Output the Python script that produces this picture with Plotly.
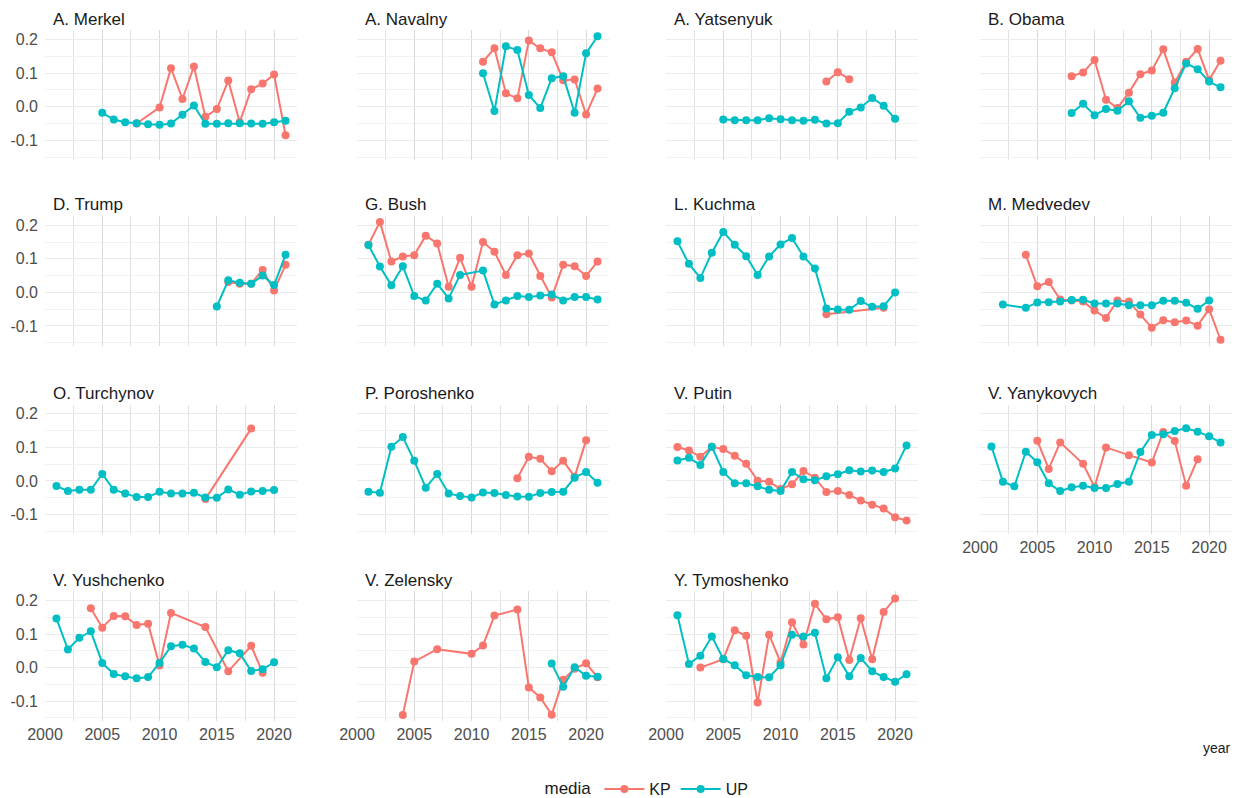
import plotly.graph_objects as go

YEARS = list(range(2001, 2022))
N = None

# values for 2001..2021 (None = no observation)
MERKEL_KP = [N, N, N, N, N, N, N, -0.050, N, -0.002, 0.115, 0.023, 0.120, -0.030, -0.007, 0.078, -0.046, 0.052, 0.069, 0.096, -0.085]
MERKEL_UP = [N, N, N, N, -0.018, -0.038, -0.046, -0.049, -0.052, -0.054, -0.050, -0.024, 0.004, -0.051, -0.051, -0.049, -0.049, -0.050, -0.051, -0.046, -0.042]
NAVALNY_KP = [N, N, N, N, N, N, N, N, N, N, 0.134, 0.174, 0.040, 0.025, 0.197, 0.174, 0.162, 0.079, 0.081, -0.023, 0.054]
NAVALNY_UP = [N, N, N, N, N, N, N, N, N, N, 0.100, -0.013, 0.180, 0.169, 0.035, -0.004, 0.085, 0.091, -0.018, 0.159, 0.210]
YATSENYUK_KP = [N, N, N, N, N, N, N, N, N, N, N, N, N, 0.075, 0.103, 0.082, N, N, N, N, N]
YATSENYUK_UP = [N, N, N, N, -0.038, -0.040, -0.040, -0.040, -0.034, -0.037, -0.040, -0.042, -0.039, -0.050, -0.049, -0.015, -0.002, 0.026, 0.003, -0.036, N]
OBAMA_KP = [N, N, N, N, N, N, N, 0.091, 0.102, 0.139, 0.021, -0.004, 0.042, 0.097, 0.108, 0.171, 0.072, 0.134, 0.172, 0.080, 0.137]
OBAMA_UP = [N, N, N, N, N, N, N, -0.019, 0.009, -0.025, -0.007, -0.012, 0.016, -0.033, -0.027, -0.018, 0.055, 0.129, 0.112, 0.075, 0.058]
TRUMP_KP = [N, N, N, N, N, N, N, N, N, N, N, N, N, N, N, 0.031, 0.026, 0.026, 0.067, 0.006, 0.082]
TRUMP_UP = [N, N, N, N, N, N, N, N, N, N, N, N, N, N, -0.042, 0.036, 0.029, 0.026, 0.050, 0.022, 0.112]
BUSH_KP = [0.142, 0.210, 0.092, 0.107, 0.111, 0.169, 0.146, 0.017, 0.103, 0.017, 0.150, 0.121, 0.052, 0.111, 0.116, 0.049, -0.015, 0.082, 0.078, 0.049, 0.092]
BUSH_UP = [0.141, 0.077, 0.021, 0.078, -0.011, -0.024, 0.026, -0.018, 0.052, N, 0.065, -0.036, -0.024, -0.011, -0.014, -0.009, -0.006, -0.024, -0.014, -0.014, -0.021]
KUCHMA_KP = [N, N, N, N, N, N, N, N, N, N, N, N, N, -0.065, N, N, N, N, -0.046, N, N]
KUCHMA_UP = [0.152, 0.085, 0.043, 0.118, 0.180, 0.142, 0.108, 0.052, 0.107, 0.143, 0.162, 0.107, 0.071, -0.048, -0.051, -0.052, -0.026, -0.043, -0.041, 0.000, N]
MEDVEDEV_KP = [N, N, N, 0.112, 0.018, 0.031, -0.021, -0.024, -0.027, -0.054, -0.076, -0.024, -0.027, -0.066, -0.105, -0.083, -0.089, -0.084, -0.099, -0.050, -0.141]
MEDVEDEV_UP = [N, -0.036, N, -0.046, -0.030, -0.029, -0.027, -0.023, -0.022, -0.033, -0.033, -0.033, -0.038, -0.038, -0.038, -0.025, -0.025, -0.031, -0.049, -0.024, N]
TURCHYNOV_KP = [N, N, N, N, N, N, N, N, N, N, N, N, N, -0.054, N, N, N, 0.156, N, N, N]
TURCHYNOV_UP = [-0.015, -0.030, -0.026, -0.026, 0.021, -0.026, -0.037, -0.048, -0.048, -0.032, -0.037, -0.037, -0.035, -0.049, -0.050, -0.025, -0.041, -0.031, -0.030, -0.027, N]
POROSHENKO_KP = [N, N, N, N, N, N, N, N, N, N, N, N, N, 0.008, 0.072, 0.066, 0.029, 0.060, 0.013, 0.121, N]
POROSHENKO_UP = [-0.032, -0.035, 0.102, 0.131, 0.060, -0.020, 0.021, -0.037, -0.045, -0.049, -0.034, -0.036, -0.042, -0.046, -0.047, -0.036, -0.033, -0.032, 0.010, 0.027, -0.005]
PUTIN_KP = [0.101, 0.091, 0.072, 0.102, 0.095, 0.075, 0.051, 0.001, -0.002, -0.024, -0.010, 0.030, 0.010, -0.033, -0.030, -0.042, -0.058, -0.071, -0.082, -0.108, -0.118]
PUTIN_UP = [0.061, 0.069, 0.048, 0.102, 0.027, -0.007, -0.007, -0.016, -0.026, -0.030, 0.027, 0.005, 0.002, 0.014, 0.020, 0.032, 0.028, 0.031, 0.027, 0.037, 0.106]
YANYKOVYCH_KP = [N, N, N, N, 0.120, 0.036, 0.115, N, 0.051, -0.018, 0.100, N, 0.077, N, 0.055, 0.146, 0.119, -0.014, 0.065, N, N]
YANYKOVYCH_UP = [0.103, -0.002, -0.016, 0.087, 0.056, -0.007, -0.030, -0.019, -0.014, -0.021, -0.021, -0.009, -0.002, 0.086, 0.137, 0.139, 0.149, 0.157, 0.147, 0.133, 0.115]
YUSHCHENKO_KP = [N, N, N, 0.177, 0.119, 0.154, 0.153, 0.127, 0.131, 0.006, 0.163, N, N, 0.121, N, -0.011, N, 0.065, -0.015, N, N]
YUSHCHENKO_UP = [0.146, 0.054, 0.089, 0.108, 0.014, -0.019, -0.026, -0.032, -0.028, 0.014, 0.064, 0.068, 0.057, 0.017, 0.001, 0.052, 0.043, -0.010, -0.005, 0.016, N]
ZELENSKY_KP = [N, N, N, -0.141, 0.018, N, 0.055, N, N, 0.041, 0.066, 0.155, N, 0.173, -0.059, -0.089, -0.140, -0.036, -0.003, 0.013, -0.029]
ZELENSKY_UP = [N, N, N, N, N, N, N, N, N, N, N, N, N, N, N, N, 0.012, -0.057, 0.001, -0.024, -0.027]
TYMOSHENKO_KP = [N, N, 0.000, N, 0.025, 0.111, 0.095, -0.104, 0.098, 0.016, 0.135, 0.069, 0.190, 0.144, 0.150, 0.023, 0.147, 0.025, 0.166, 0.206, N]
TYMOSHENKO_UP = [0.156, 0.011, 0.035, 0.093, 0.026, 0.007, -0.023, -0.028, -0.029, 0.007, 0.098, 0.093, 0.104, -0.032, 0.031, -0.026, 0.029, -0.011, -0.028, -0.042, -0.020]

PANELS = [
    ("A. Merkel", MERKEL_KP, MERKEL_UP),
    ("A. Navalny", NAVALNY_KP, NAVALNY_UP),
    ("A. Yatsenyuk", YATSENYUK_KP, YATSENYUK_UP),
    ("B. Obama", OBAMA_KP, OBAMA_UP),
    ("D. Trump", TRUMP_KP, TRUMP_UP),
    ("G. Bush", BUSH_KP, BUSH_UP),
    ("L. Kuchma", KUCHMA_KP, KUCHMA_UP),
    ("M. Medvedev", MEDVEDEV_KP, MEDVEDEV_UP),
    ("O. Turchynov", TURCHYNOV_KP, TURCHYNOV_UP),
    ("P. Poroshenko", POROSHENKO_KP, POROSHENKO_UP),
    ("V. Putin", PUTIN_KP, PUTIN_UP),
    ("V. Yanykovych", YANYKOVYCH_KP, YANYKOVYCH_UP),
    ("V. Yushchenko", YUSHCHENKO_KP, YUSHCHENKO_UP),
    ("V. Zelensky", ZELENSKY_KP, ZELENSKY_UP),
    ("Y. Tymoshenko", TYMOSHENKO_KP, TYMOSHENKO_UP),
]

X_TICKS = [2000, 2005, 2010, 2015, 2020]
Y_TICKS = [-0.1, 0.0, 0.1, 0.2]
Y_TICKTEXT = ["-0.1", "0.0", "0.1", "0.2"]

# page body margin offset (the figure is drawn 8px in from the window corner)
OFF = 8
W, H = 1240, 798
KP_COLOR = "#F8766D"
UP_COLOR = "#00BFC4"
FONT = "Liberation Sans, Arial, sans-serif"

# target screen pixel geometry
col_left = [45, 357, 666, 980]
panel_w = 252
row_y02 = [40, 228, 419, 608]
px_per_unit = 340.0
y_lo, y_hi = -0.1585, 0.2276


def fx(px):
    return (px - OFF) / W


def fy(py):
    return 1 - (py - OFF) / H


fig = go.Figure()
annotations = []
layout = {}
for i, (name, kp, up) in enumerate(PANELS):
    r, c = divmod(i, 4)
    idx = "" if i == 0 else str(i + 1)
    left = col_left[c]
    right = left + panel_w
    top = row_y02[r] - (y_hi - 0.2) * px_per_unit
    bottom = row_y02[r] + (0.2 - y_lo) * px_per_unit
    show_x = (i >= 11)
    show_y = (c == 0)
    layout["xaxis" + idx] = dict(
        domain=[fx(left), fx(right)], range=[2000, 2022], anchor="y" + idx,
        tickvals=X_TICKS, showticklabels=show_x, ticks="", automargin=False,
        showgrid=True, gridcolor="#d9d9d9", gridwidth=1,
        minor=dict(dtick=2.5, tick0=2000, showgrid=True, gridcolor="#e2e2e2", gridwidth=0.8),
        zeroline=False, showline=False,
        tickfont=dict(size=16, color="#4d4d4d", family=FONT),
        ticklabelstandoff=2,
    )
    layout["yaxis" + idx] = dict(
        domain=[fy(bottom), fy(top)], range=[y_lo, y_hi], anchor="x" + idx,
        tickvals=Y_TICKS, ticktext=Y_TICKTEXT, showticklabels=show_y, ticks="", automargin=False,
        showgrid=True, gridcolor="#ebebeb", gridwidth=1.2,
        minor=dict(tickvals=[-0.15, -0.05, 0.05, 0.15], showgrid=True, gridcolor="#f2f2f2", gridwidth=0.8),
        zeroline=False, showline=False,
        tickfont=dict(size=16, color="#4d4d4d", family=FONT),
        ticklabelstandoff=6,
    )
    for series, vals, color in (("KP", kp, KP_COLOR), ("UP", up, UP_COLOR)):
        fig.add_trace(go.Scatter(
            x=YEARS, y=vals, mode="lines+markers", connectgaps=True,
            line=dict(color=color, width=2), marker=dict(color=color, size=8),
            name=series, legendgroup=series, showlegend=(i == 0),
            xaxis="x" + idx, yaxis="y" + idx,
        ))
    annotations.append(dict(
        text=name, xref="paper", yref="paper", x=fx(left + 7), y=fy(top - 0.5),
        xanchor="left", yanchor="bottom", showarrow=False, borderpad=0,
        font=dict(size=17, color="#1a1a1a", family=FONT),
    ))

annotations.append(dict(
    text="year", xref="paper", yref="paper", x=fx(1233), y=fy(757),
    xanchor="right", yanchor="middle", showarrow=False,
    font=dict(size=14, color="#1a1a1a", family=FONT),
))

fig.update_layout(
    width=W, height=H,
    margin=dict(l=0, r=0, t=0, b=0),
    paper_bgcolor="white", plot_bgcolor="white",
    annotations=annotations,
    showlegend=True,
    legend=dict(
        orientation="h", x=fx(648), xanchor="center", y=fy(799), yanchor="middle",
        title=dict(text="media", side="left", font=dict(size=17, color="#1a1a1a", family=FONT)),
        font=dict(size=16, color="#1a1a1a", family=FONT),
        itemwidth=40,
    ),
    **layout,
)

fig.write_html("out.html")
